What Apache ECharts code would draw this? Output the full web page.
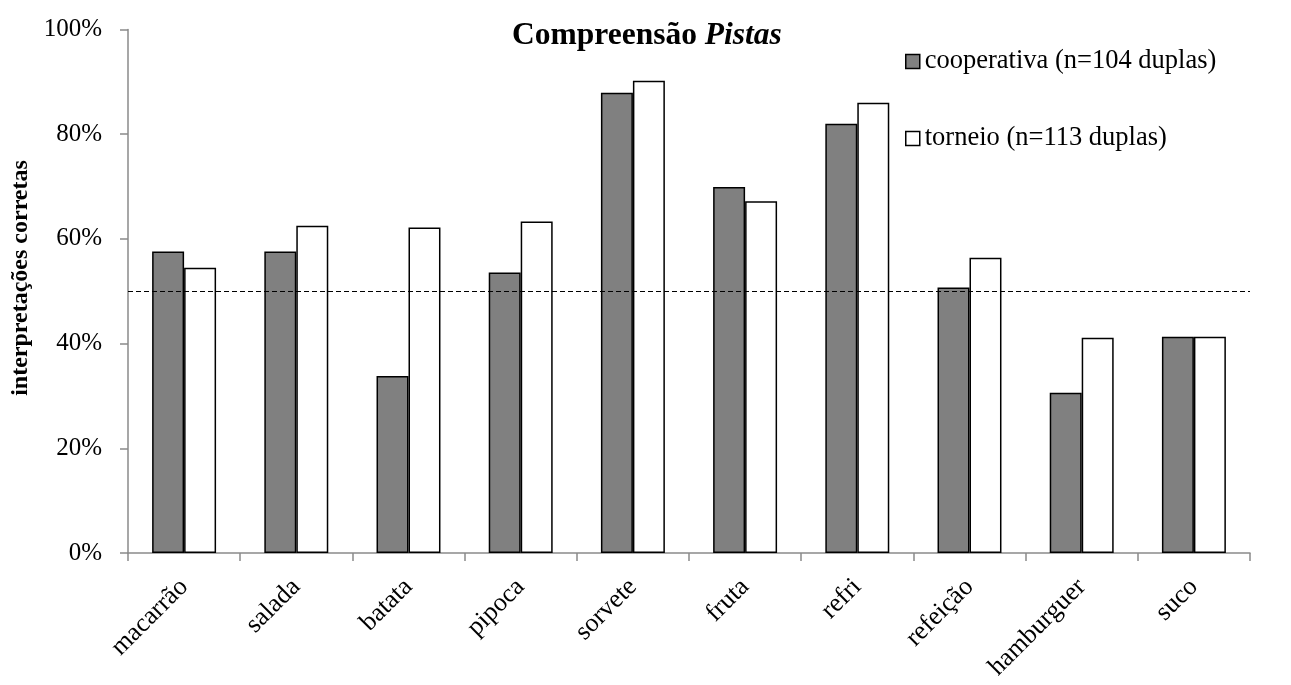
<!DOCTYPE html>
<html>
<head>
<meta charset="utf-8">
<script src="https://cdn.jsdelivr.net/npm/echarts@6/dist/echarts.min.js"></script>
<style>
  html, body { margin: 0; padding: 0; background: #fff; }
  #chart { width: 1291px; height: 685px; }
</style>
</head>
<body>
<div id="chart"></div>
<script>
// Foods shown on the category axis
const categories = ['macarrão', 'salada', 'batata', 'pipoca', 'sorvete', 'fruta', 'refri', 'refeição', 'hamburguer', 'suco'];
// Share of correct interpretations (%) per condition
const cooperativa = [57.6, 57.6, 33.8, 53.6, 87.9, 69.9, 82.0, 50.7, 30.6, 41.3];
const torneio = [54.5, 62.5, 62.2, 63.3, 90.2, 67.2, 86.0, 56.4, 41.1, 41.3];
const seriesNames = ['cooperativa (n=104 duplas)', 'torneio (n=113 duplas)'];
// Chance level reference line (%)
const chanceLevel = 50;
const yTicks = { min: 0, max: 100, interval: 20 };

const FONT = 'Liberation Serif';
const AXIS_GREY = '#8a8a8a';

const chart = echarts.init(document.getElementById('chart'), null, { renderer: 'canvas' });

chart.setOption({
  animation: false,
  backgroundColor: '#ffffff',
  title: {
    text: '{b|Compreensão }{bi|Pistas}',
    left: 512,
    top: 20,
    padding: 0,
    textStyle: {
      rich: {
        b: { fontFamily: FONT, fontSize: 31.5, fontWeight: 'bold', color: '#000' },
        bi: { fontFamily: FONT, fontSize: 31.5, fontWeight: 'bold', fontStyle: 'italic', color: '#000' }
      }
    }
  },
  legend: {
    orient: 'vertical',
    left: 905,
    top: 48,
    padding: 0,
    itemGap: 50,
    itemWidth: 14,
    itemHeight: 14,
    itemTextGap: 5,
    icon: 'rect',
    textStyle: { fontFamily: FONT, fontSize: 26.5, color: '#000' },
    data: [
      { name: seriesNames[0], itemStyle: { color: '#808080', borderColor: '#000', borderWidth: 1.5 } },
      { name: seriesNames[1], itemStyle: { color: '#ffffff', borderColor: '#000', borderWidth: 1.5 } }
    ]
  },
  grid: { left: 128, right: 41, top: 29.5, bottom: 132, containLabel: false },
  xAxis: {
    type: 'category',
    data: categories,
    axisLine: { lineStyle: { color: AXIS_GREY, width: 1.5 } },
    axisTick: { show: true, alignWithLabel: false, length: 8, lineStyle: { color: AXIS_GREY, width: 1.5 } },
    axisLabel: {
      rotate: 45,
      margin: 30,
      interval: 0,
      fontFamily: FONT,
      fontSize: 26,
      color: '#000'
    }
  },
  yAxis: {
    type: 'value',
    min: yTicks.min,
    max: yTicks.max,
    interval: yTicks.interval,
    axisLine: { show: true, lineStyle: { color: AXIS_GREY, width: 1.5 } },
    axisTick: { show: true, length: 8, lineStyle: { color: AXIS_GREY, width: 1.5 } },
    splitLine: { show: false },
    axisLabel: {
      formatter: '{value}%',
      margin: 26,
      fontFamily: FONT,
      fontSize: 25,
      color: '#000'
    }
  },
  graphic: [{
    type: 'text',
    x: 21,
    y: 278,
    rotation: Math.PI / 2,
    style: {
      text: 'interpretações corretas',
      fontFamily: FONT,
      fontSize: 24,
      fontWeight: 'bold',
      fill: '#000',
      align: 'center',
      verticalAlign: 'middle'
    }
  }],
  series: [
    {
      name: seriesNames[0],
      type: 'bar',
      data: cooperativa,
      barGap: '0%',
      barCategoryGap: '43%',
      itemStyle: { color: '#808080', borderColor: '#000', borderWidth: 1.5 },
      markLine: {
        silent: true,
        symbol: 'none',
        label: { show: false },
        lineStyle: { color: '#000', type: [5, 3], width: 1 },
        data: [{ yAxis: chanceLevel }],
        z: 10
      }
    },
    {
      name: seriesNames[1],
      type: 'bar',
      data: torneio,
      barGap: '0%',
      barCategoryGap: '43%',
      itemStyle: { color: '#ffffff', borderColor: '#000', borderWidth: 1.5 }
    }
  ]
});
</script>
</body>
</html>
